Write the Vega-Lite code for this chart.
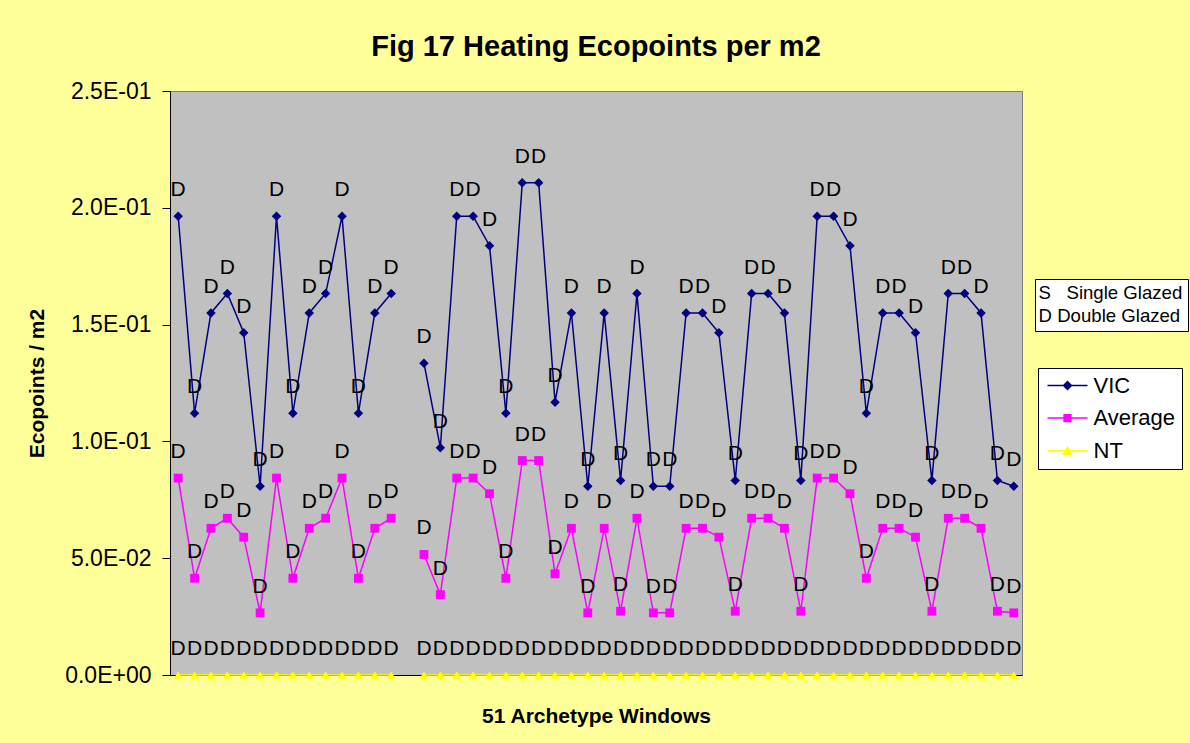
{
  "$schema": "https://vega.github.io/schema/vega-lite/v6.json",
  "width": 852,
  "height": 584,
  "autosize": {"type": "none"},
  "padding": {"left": 170, "top": 91, "right": 168, "bottom": 68},
  "background": "#FFFF99",
  "title": {"text": "Fig 17 Heating Ecopoints per m2", "font": "Liberation Sans", "fontSize": 29, "fontWeight": "bold", "color": "black", "anchor": "middle", "frame": "group", "offset": 18},
  "data": {"values": [
    {"w": 1, "VIC": 0.1964, "Average": 0.0843, "NT": 0, "g": "D"},
    {"w": 2, "VIC": 0.1121, "Average": 0.0414, "NT": 0, "g": "D"},
    {"w": 3, "VIC": 0.1550, "Average": 0.0628, "NT": 0, "g": "D"},
    {"w": 4, "VIC": 0.1633, "Average": 0.0671, "NT": 0, "g": "D"},
    {"w": 5, "VIC": 0.1465, "Average": 0.0590, "NT": 0, "g": "D"},
    {"w": 6, "VIC": 0.0808, "Average": 0.0266, "NT": 0, "g": "D"},
    {"w": 7, "VIC": 0.1964, "Average": 0.0843, "NT": 0, "g": "D"},
    {"w": 8, "VIC": 0.1121, "Average": 0.0414, "NT": 0, "g": "D"},
    {"w": 9, "VIC": 0.1550, "Average": 0.0628, "NT": 0, "g": "D"},
    {"w": 10, "VIC": 0.1633, "Average": 0.0671, "NT": 0, "g": "D"},
    {"w": 11, "VIC": 0.1964, "Average": 0.0843, "NT": 0, "g": "D"},
    {"w": 12, "VIC": 0.1121, "Average": 0.0414, "NT": 0, "g": "D"},
    {"w": 13, "VIC": 0.1550, "Average": 0.0628, "NT": 0, "g": "D"},
    {"w": 14, "VIC": 0.1633, "Average": 0.0671, "NT": 0, "g": "D"},
    {"w": 15, "VIC": null, "Average": null, "NT": null, "g": "D"},
    {"w": 16, "VIC": 0.1335, "Average": 0.0516, "NT": 0, "g": "D"},
    {"w": 17, "VIC": 0.0973, "Average": 0.0344, "NT": 0, "g": "D"},
    {"w": 18, "VIC": 0.1964, "Average": 0.0843, "NT": 0, "g": "D"},
    {"w": 19, "VIC": 0.1964, "Average": 0.0843, "NT": 0, "g": "D"},
    {"w": 20, "VIC": 0.1838, "Average": 0.0776, "NT": 0, "g": "D"},
    {"w": 21, "VIC": 0.1121, "Average": 0.0414, "NT": 0, "g": "D"},
    {"w": 22, "VIC": 0.2107, "Average": 0.0918, "NT": 0, "g": "D"},
    {"w": 23, "VIC": 0.2107, "Average": 0.0918, "NT": 0, "g": "D"},
    {"w": 24, "VIC": 0.1168, "Average": 0.0433, "NT": 0, "g": "D"},
    {"w": 25, "VIC": 0.1550, "Average": 0.0628, "NT": 0, "g": "D"},
    {"w": 26, "VIC": 0.0808, "Average": 0.0266, "NT": 0, "g": "D"},
    {"w": 27, "VIC": 0.1550, "Average": 0.0628, "NT": 0, "g": "D"},
    {"w": 28, "VIC": 0.0833, "Average": 0.0273, "NT": 0, "g": "D"},
    {"w": 29, "VIC": 0.1633, "Average": 0.0671, "NT": 0, "g": "D"},
    {"w": 30, "VIC": 0.0808, "Average": 0.0266, "NT": 0, "g": "D"},
    {"w": 31, "VIC": 0.0808, "Average": 0.0266, "NT": 0, "g": "D"},
    {"w": 32, "VIC": 0.1550, "Average": 0.0628, "NT": 0, "g": "D"},
    {"w": 33, "VIC": 0.1550, "Average": 0.0628, "NT": 0, "g": "D"},
    {"w": 34, "VIC": 0.1465, "Average": 0.0590, "NT": 0, "g": "D"},
    {"w": 35, "VIC": 0.0833, "Average": 0.0273, "NT": 0, "g": "D"},
    {"w": 36, "VIC": 0.1633, "Average": 0.0671, "NT": 0, "g": "D"},
    {"w": 37, "VIC": 0.1633, "Average": 0.0671, "NT": 0, "g": "D"},
    {"w": 38, "VIC": 0.1550, "Average": 0.0628, "NT": 0, "g": "D"},
    {"w": 39, "VIC": 0.0833, "Average": 0.0273, "NT": 0, "g": "D"},
    {"w": 40, "VIC": 0.1964, "Average": 0.0843, "NT": 0, "g": "D"},
    {"w": 41, "VIC": 0.1964, "Average": 0.0843, "NT": 0, "g": "D"},
    {"w": 42, "VIC": 0.1838, "Average": 0.0776, "NT": 0, "g": "D"},
    {"w": 43, "VIC": 0.1121, "Average": 0.0414, "NT": 0, "g": "D"},
    {"w": 44, "VIC": 0.1550, "Average": 0.0628, "NT": 0, "g": "D"},
    {"w": 45, "VIC": 0.1550, "Average": 0.0628, "NT": 0, "g": "D"},
    {"w": 46, "VIC": 0.1465, "Average": 0.0590, "NT": 0, "g": "D"},
    {"w": 47, "VIC": 0.0833, "Average": 0.0273, "NT": 0, "g": "D"},
    {"w": 48, "VIC": 0.1633, "Average": 0.0671, "NT": 0, "g": "D"},
    {"w": 49, "VIC": 0.1633, "Average": 0.0671, "NT": 0, "g": "D"},
    {"w": 50, "VIC": 0.1550, "Average": 0.0628, "NT": 0, "g": "D"},
    {"w": 51, "VIC": 0.0833, "Average": 0.0273, "NT": 0, "g": "D"},
    {"w": 52, "VIC": 0.0808, "Average": 0.0266, "NT": 0, "g": "D"}
  ]},
  "transform": [{"fold": ["VIC", "Average", "NT"], "as": ["series", "value"]}],
  "encoding": {
    "x": {
      "field": "w", "type": "quantitative",
      "scale": {"domain": [0.5, 52.5], "nice": false, "zero": false},
      "axis": {"title": "51 Archetype Windows", "labels": false, "ticks": false, "grid": false, "domainColor": "black", "domainWidth": 1, "titleFont": "Liberation Sans", "titleFontSize": 21, "titleFontWeight": "bold", "titleColor": "black", "titleBaseline": "alphabetic", "titleAlign": "center", "titleX": 426, "titleY": 47.5}
    },
    "y": {
      "field": "value", "type": "quantitative",
      "scale": {"domain": [0, 0.25], "nice": false, "zero": true},
      "axis": {"values": [0, 0.05, 0.1, 0.15, 0.2, 0.25], "labelExpr": "datum.value == 0 ? '0.0E+00' : replace(format(datum.value, '.1e'), 'e-', 'E-0')", "grid": false, "tickSize": 8, "tickColor": "black", "domainColor": "black", "labelFont": "Liberation Sans", "labelFontSize": 23, "labelColor": "black", "labelPadding": 11, "title": "Ecopoints / m2", "titleFont": "Liberation Sans", "titleFontSize": 21, "titleFontWeight": "bold", "titleColor": "black", "titleX": -133, "titleY": 292, "titleAngle": -90, "titleBaseline": "middle", "titleAlign": "center"}
    }
  },
  "layer": [
    {
      "mark": {"type": "line", "strokeWidth": 1.5, "invalid": "break-paths-filter-domains"},
      "encoding": {
        "color": {"field": "series", "type": "nominal", "scale": {"domain": ["VIC", "Average", "NT"], "range": ["#000080", "#FF00FF", "#FFFF00"]}}
      }
    },
    {
      "transform": [{"filter": "datum.series == 'VIC'"}],
      "mark": {"type": "point", "filled": true, "opacity": 1, "size": 90, "shape": "diamond", "color": "#000080"}
    },
    {
      "transform": [{"filter": "datum.series == 'Average'"}],
      "mark": {"type": "point", "filled": true, "opacity": 1, "size": 78, "shape": "square", "color": "#FF00FF"}
    },
    {
      "transform": [{"filter": "datum.series == 'NT'"}],
      "mark": {"type": "point", "filled": true, "opacity": 1, "size": 75, "shape": "triangle-up", "color": "#FFFF00"}
    },
    {
      "mark": {"type": "point", "filled": true, "opacity": 0, "size": 100},
      "encoding": {
        "color": {
          "field": "series", "type": "nominal",
          "scale": {"domain": ["VIC", "Average", "NT"], "range": ["#000080", "#FF00FF", "#FFFF00"]},
          "legend": {
            "title": null, "orient": "none", "legendX": 868, "legendY": 277,
            "fillColor": "white", "strokeColor": "black", "padding": 6.5,
            "labelFont": "Liberation Sans", "labelFontSize": 22, "labelColor": "black",
            "symbolSize": 100, "symbolOpacity": 1, "symbolStrokeWidth": 0, "symbolOffset": 12, "labelOffset": 15, "rowPadding": 10.6
          }
        },
        "shape": {
          "field": "series", "type": "nominal",
          "scale": {"domain": ["VIC", "Average", "NT"], "range": ["M-4,-0.15H4V0.15H-4Z M0,-1L1,0L0,1L-1,0Z", "M-4,-0.15H4V0.15H-4Z M-0.82,-0.82H0.82V0.82H-0.82Z", "M-4,-0.15H4V0.15H-4Z M0,-1L1.05,0.85H-1.05Z"]},
          "legend": {
            "title": null, "orient": "none", "legendX": 868, "legendY": 277,
            "fillColor": "white", "strokeColor": "black", "padding": 6.5,
            "labelFont": "Liberation Sans", "labelFontSize": 22, "labelColor": "black",
            "symbolSize": 100, "symbolOpacity": 1, "symbolStrokeWidth": 0, "symbolOffset": 12, "labelOffset": 15, "rowPadding": 10.6
          }
        }
      }
    },
    {
      "transform": [{"filter": "isValid(datum.value)"}],
      "mark": {"type": "text", "font": "Liberation Sans", "fontSize": 21, "baseline": "alphabetic", "dy": -20, "color": "black"},
      "encoding": {
        "text": {"field": "g"},
        "opacity": {
          "field": "g", "type": "ordinal",
          "scale": {"domain": ["S", "D"], "range": [1, 1]},
          "legend": {
            "title": null, "orient": "none", "legendX": 865, "legendY": 188,
            "fillColor": "white", "strokeColor": "black", "padding": 5,
            "labelFont": "Liberation Sans", "labelFontSize": 18.6, "labelColor": "black",
            "symbolSize": 0, "symbolOpacity": 0, "symbolOffset": 0, "labelOffset": -20, "rowPadding": 4,
            "labelExpr": "datum.value == 'S' ? 'S\u00a0\u00a0\u00a0Single Glazed' : 'D Double Glazed'"
          }
        }
      }
    }
  ],
  "config": {
    "view": {"fill": "#C0C0C0", "stroke": "#808080", "strokeWidth": 1}
  }
}
